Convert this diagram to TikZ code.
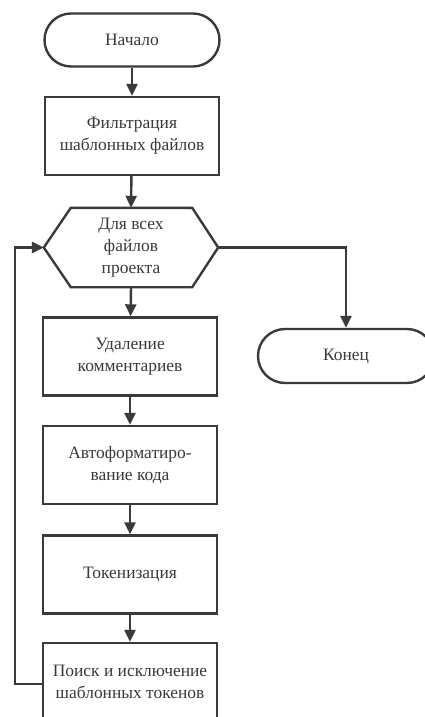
\documentclass[tikz,border=0pt]{standalone}
\usepackage{fontspec}
\setmainfont{Liberation Serif}
\usetikzlibrary{arrows.meta}
\definecolor{ink}{HTML}{3A3A3A}
\begin{document}
\begin{tikzpicture}[x=1bp,y=-1bp,
  every node/.style={font=\fontsize{17.5}{22}\selectfont, text=ink, align=center},
  box/.style={draw=ink, line width=2.4bp, minimum width=174bp, minimum height=78bp, inner sep=0pt},
  term/.style={draw=ink, line width=2.4bp, minimum width=175bp, minimum height=53bp, rounded corners=26.5bp, inner sep=0pt},
  hexa/.style={minimum width=174bp, minimum height=79bp, inner sep=0pt},
  arr/.style={draw=ink, line width=2.4bp, -{Triangle[length=12bp,width=11bp]}}
]
\useasboundingbox (0,0) rectangle (424,717);
\fill[white] (0,0) rectangle (424,717);
\node[term] (start) at (132,40) {Начало};
\node[box] (filt) at (132,136) {Фильтрация\\шаблонных файлов};
\node[hexa] (loop) at (131,247.5) {Для всех\\файлов\\проекта};
\draw[ink, line width=2.4bp, line join=miter]
  (loop.west) -- ([xshift=27bp]loop.north west) -- ([xshift=-26bp]loop.north east)
  -- (loop.east) -- ([xshift=-26bp]loop.south east) -- ([xshift=27bp]loop.south west) -- cycle;
\node[box] (del) at (130,356.5) {Удаление\\комментариев};
\node[box] (fmt) at (130,465) {Автоформатиро-\\вание кода};
\node[box] (tok) at (130,574.5) {Токенизация};
\node[box] (srch) at (130,682) {Поиск и исключение\\шаблонных токенов};
\node[term, minimum width=176bp, minimum height=54bp, rounded corners=27bp] (fin) at (346,356) {Конец};

\draw[arr] (start) -- (filt);
\draw[arr] (filt) -- (loop.north);
\draw[arr] (loop.south) -- (del);
\draw[arr] (del) -- (fmt);
\draw[arr] (fmt) -- (tok);
\draw[arr] (tok) -- (srch);
\draw[arr] (loop.east) -| (fin.north);
\draw[arr] ([yshift=-2bp]srch.west) -- ++(-27bp,0) |- (loop.west);
\end{tikzpicture}
\end{document}
